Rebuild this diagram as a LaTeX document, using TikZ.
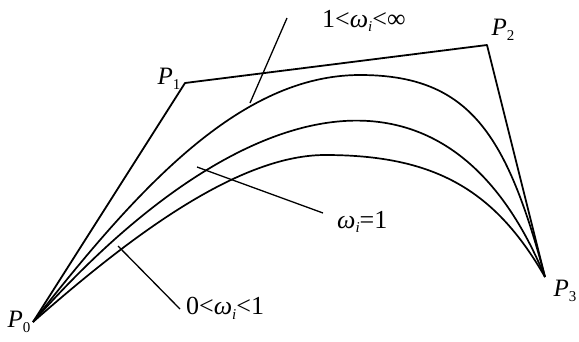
\documentclass[tikz,border=0pt]{standalone}
\usepackage{fontspec}
\setmainfont{Liberation Serif}
\newcommand\mysub[1]{\raisebox{-0.4ex}{\fontsize{15}{15}\selectfont #1}}
\begin{document}
\begin{tikzpicture}[x=1pt,y=-1pt,
  poly/.style={line width=1.8pt,line join=round},
  crv/.style={line width=1.7pt},
  lead/.style={line width=1.3pt},
  lab/.style={inner sep=0pt,font=\fontsize{25}{25}\selectfont},
  wlab/.style={inner sep=0pt,anchor=west,font=\fontsize{26}{26}\selectfont}]
\useasboundingbox (0,0) rectangle (579,341);
\coordinate (P0) at (33,322);
\coordinate (P1) at (185,83);
\coordinate (P2) at (487,45);
\coordinate (P3) at (545,277);
\coordinate (TA) at (360,75);
\coordinate (TC) at (325,155);
% control polygon
\draw[poly] (P0) -- (P1) -- (P2) -- (P3);
% curves
\draw[crv] (P0) .. controls (138,188) and (240,75) .. (TA)
                .. controls (470,75) and (507,135) .. (P3);
\draw[crv] (P0) .. controls (229,100) and (443,29) .. (P3);
\draw[crv] (P0) .. controls (123,243) and (235,155) .. (TC)
                .. controls (435,155) and (495,190) .. (P3);
% labels
\node[lab] (l0) at (19,322) {\textit{P}\mysub{0}};
\node[lab] (l1) at (169,79) {\textit{P}\mysub{1}};
\node[lab] (l2) at (503,30) {\textit{P}\mysub{2}};
\node[lab] (l3) at (565,291) {\textit{P}\mysub{3}};
\node[wlab] (wa) at (322,21) {1<\textit{ω}\mysub{\textit{i}}<∞};
\node[wlab] (wb) at (337,222) {\textit{ω}\mysub{\textit{i}}=1};
\node[wlab] (wc) at (186,308) {0<\textit{ω}\mysub{\textit{i}}<1};
% leader lines
\coordinate (ta) at (250,103);
\coordinate (ea) at (287,18);
\coordinate (tb) at (197,167);
\coordinate (eb) at (323,213);
\coordinate (tc) at (118,246);
\coordinate (ec) at (180,309);
\draw[lead] (ta) -- (ea);
\draw[lead] (tb) -- (eb);
\draw[lead] (tc) -- (ec);
\end{tikzpicture}
\end{document}
